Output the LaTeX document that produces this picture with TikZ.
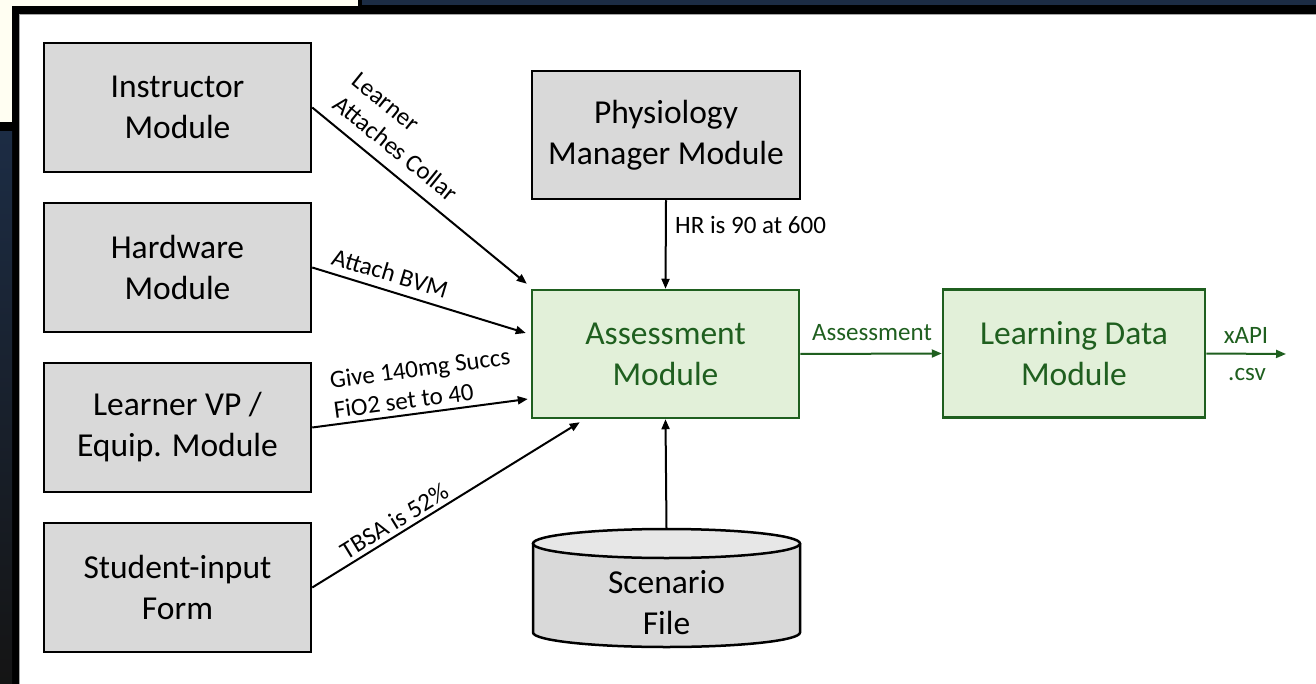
\documentclass[tikz,border=0pt]{standalone}
\usepackage{fontspec}
\setmainfont{Carlito}
\usetikzlibrary{arrows.meta,calc}
\definecolor{boxgray}{HTML}{D9D9D9}
\definecolor{cyltop}{HTML}{E7E7E7}
\definecolor{gfill}{HTML}{E2F0D9}
\definecolor{gdark}{HTML}{1F5F1F}
\definecolor{cream}{HTML}{FFFEF2}
\definecolor{navy}{HTML}{1C2C44}
\begin{document}
\begin{tikzpicture}[x=1pt,y=-1pt,
  module/.style={draw=black, line width=2.5pt, fill=boxgray, minimum width=267pt, minimum height=129pt, align=center, font=\fontsize{33.5}{41}\selectfont, inner sep=0pt, execute at begin node={\rule{0pt}{29pt}}},
  gmodule/.style={draw=gdark, line width=2.5pt, fill=gfill, text=gdark, minimum width=267pt, minimum height=128pt, align=center, font=\fontsize{33.5}{41}\selectfont, inner sep=0pt},
  lbl/.style={font=\fontsize{25}{30}\selectfont, inner sep=0pt},
  conn/.style={line width=2pt, -{Triangle[length=10pt,width=8pt]}},
  gconn/.style={conn, draw=gdark},
]
% background frame
\useasboundingbox (0,0) rectangle (1316,684);
\fill[black] (0,0) rectangle (1316,684);
\fill[cream] (0,0) rectangle (358,6);
\fill[cream] (0,0) rectangle (12,122);
\fill[navy] (362,0) rectangle (1316,5);
\shade[top color=navy, bottom color=black!92] (0,132) rectangle (12,684);
\fill[white] (19.5,14.5) rectangle (1316,684);
\draw[gray!70, line width=0.8pt] (19.5,684) -- (19.5,14.5) -- (1316,14.5);

% modules
\node[module] (instr) at (177.5,107.5) {Instructor\\Module};
\node[module] (hw) at (177.5,267.5) {Hardware\\Module};
\node[module] (lvp) at (177.5,427.5) {Learner VP /\\Equip. Module};
\node[module] (form) at (177.5,587.5) {Student-input\\Form};
\node[module, minimum width=268pt, minimum height=128pt] (phys) at (666,135) {Physiology\\Manager Module};
\node[gmodule] (assess) at (665.5,354) {Assessment\\Module};
\node[gmodule, minimum width=262pt] (ldm) at (1074,353.5) {Learning Data\\Module};

% scenario file cylinder
\fill[boxgray] (533,543.5) -- (533,632.5) arc[start angle=180, end angle=360, x radius=133.5pt, y radius=14.5pt] -- (800,543.5) -- cycle;
\draw[line width=2.5pt] (533,543.5) -- (533,632.5) arc[start angle=180, end angle=360, x radius=133.5pt, y radius=14.5pt] -- (800,543.5);
\draw[fill=cyltop, line width=2.5pt] (666.5,543.5) ellipse [x radius=133.5pt, y radius=14.5pt];
\node[inner sep=0pt, minimum width=267pt, minimum height=89pt, align=center, font=\fontsize{33.5}{41}\selectfont, execute at begin node={\rule{0pt}{27pt}}] (scen) at (666.5,602.5) {Scenario\\File};
\coordinate (scentop) at ($(scen.north)+(0,-29)$);

% end points
\coordinate (t1) at ($(assess.north west)+(-4,-5)$);
\coordinate (t2) at ($(assess.west)+(-5,-21)$);
\coordinate (t3) at ($(assess.west)+(-3,45)$);
\coordinate (t4) at ($(assess.south west)+(49,3)$);
\coordinate (outp) at (1286,354);

% connectors
\draw[conn] (instr.east) -- (t1);
\draw[conn] (hw.east) -- (t2);
\draw[conn] (lvp.east) -- (t3);
\draw[conn] (form.east) -- (t4);
\draw[conn] (phys.south) -- (assess.north);
\draw[conn] (scentop) -- (assess.south);
\draw[gconn] (assess.east) -- (ldm.west);
\draw[gconn] (ldm.east) -- (outp);

% labels
\node[lbl, align=left, rotate=-39] (la) at (405,137) {Learner\\Attaches Collar};
\node[lbl, rotate=-16.7] (lb) at (390,273) {Attach BVM};
\node[lbl, align=left, rotate=7.6] (lc) at (422,383) {Give 140mg Succs\\FiO2 set to 40};
\node[lbl, rotate=31.5] (ld) at (394,521) {TBSA is 52\%};
\node[lbl, anchor=west] (le) at (675,225) {HR is 90 at 600};
\node[lbl, text=gdark] (lf) at (872,333) {Assessment};
\node[lbl, text=gdark] (lg) at (1246,335) {xAPI};
\node[lbl, text=gdark] (lh) at (1247,375) {.csv};
\end{tikzpicture}
\end{document}
